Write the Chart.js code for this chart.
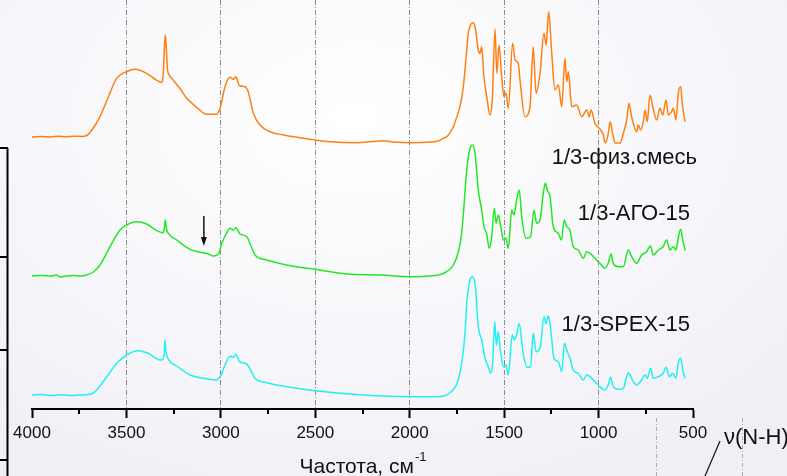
<!DOCTYPE html>
<html><head><meta charset="utf-8">
<script src="https://cdn.jsdelivr.net/npm/chart.js@4"></script>
<style>
html,body{margin:0;padding:0;}
body{width:787px;height:476px;overflow:hidden;background:radial-gradient(ellipse 75% 85% at 45% 25%, #ffffff 0%, #f7f7fb 55%, #efeff6 100%);}
#wrap{position:relative;width:787px;height:476px;}
</style></head><body><div id="wrap"><canvas id="c" width="787" height="476"></canvas></div>
<script>
// ---- Data (wavenumber, cm^-1 ; intensity in arbitrary offset units) ----
const xTicks = [4000, 3500, 3000, 2500, 2000, 1500, 1000, 500];
const seriesNames = ["1/3-физ.смесь", "1/3-АГО-15", "1/3-SPEX-15"];

const mixWn = [4000,3950,3900,3860,3820,3780,3740,3710,3675,3640,3600,3552,3499,3455,3393,3350,3315,3305,3298,3294,3290,3283,3278,3252,3215,3181,3128,3075,3022,3004,2978,2952,2934,2920,2902,2872,2855,2828,2793,2740,2669,2563,2501,2422,2281,2200,2140,2080,1998,1893,1850,1822,1800,1769,1751,1734,1716,1700,1690,1678,1666,1654,1637,1628,1619,1607,1592,1575,1563,1548,1539,1527,1513,1501,1490,1478,1455,1442,1425,1416,1390,1363,1346,1331,1310,1289,1278,1264,1248,1231,1213,1195,1178,1169,1160,1142,1116,1089,1063,1049,1040,1019,996,975,965,950,939,926,913,886,870,851,839,825,798,790,777,763,754,742,728,713,692,675,660,643,631,613,604,590,578,565,557,542];
const mixVal = [272,272.5,272,272.8,272.3,272.8,272.5,273.5,281,292.3,310,330.7,337.3,339.7,335.7,330,326.5,335,365,374,365,340,335.7,329,320,310.7,301.7,294.7,294.7,300.7,322.3,331.7,329.7,332.3,323.3,322.3,317.3,295.7,284,277.3,274,270.7,269,267.3,266.3,267.5,268.3,267,266.3,267,268,270.7,273,282.3,292,302.3,322.3,355,375.7,384,386.3,382.3,359,355.7,362.3,332.3,312.3,294,309,379.7,335.7,364,332.3,312.3,315.7,300.7,365.7,349,345.7,329,292.3,302.3,362.3,315.7,335.7,375.7,364,397.3,355.7,319,324,302.3,350.7,327.3,337.3,302.3,304,292.3,299,292.3,299,285.7,280.7,274,266,274,287.3,276,266,266,275,289,305.7,292.3,277.3,284,279,287.3,299,287.3,314,302.3,289,300.7,294,309,294,297.3,300.7,289,315.7,322.3,305.7,287.3];

const agoWn = [4000,3950,3900,3870,3852,3820,3780,3740,3710,3675,3640,3587,3534,3499,3446,3393,3340,3308,3300,3294,3288,3278,3234,3163,3110,3066,3040,3013,2995,2975,2952,2934,2920,2899,2863,2840,2819,2757,2651,2501,2334,2157,1998,1893,1822,1769,1740,1725,1716,1698,1681,1668,1654,1637,1619,1607,1593,1579,1566,1552,1543,1531,1518,1504,1490,1478,1460,1448,1434,1420,1407,1384,1360,1342,1328,1310,1293,1282,1272,1257,1240,1214,1196,1182,1169,1152,1134,1108,1081,1063,1045,1019,993,966,949,934,922,896,869,843,825,799,772,746,725,711,684,658,640,622,604,590,577,565,554,541];
const agoVal = [133,133.5,133,134,132,133,133.5,133,134,137,144,162.3,179,184,187.3,185,178.3,176.3,180,189,180,175.7,169,159.7,156.7,155,153,155,165.7,174,180.7,179,181.3,175,172.3,163,154,149,144,139.7,135,134,132.3,133,135.7,144,159,176,195,239,260.7,264,255.7,219,199,182.3,175.7,160.7,172.3,200.7,185.7,194,182.3,169,170.7,160.7,199,194,209,219,192.3,170.7,172.3,199,185.7,189,215.7,225.7,219,212.3,182.3,175.7,169,189,182.3,179,162.3,159,150.7,157.3,155.7,150.7,145.7,140.7,145.7,155,145.7,142.3,142.3,159,152.3,145.7,154,157.3,163,154,159,162.3,169,159,162.3,159,172.3,179.7,169,158.3];

const spexWn = [4000,3950,3900,3850,3800,3750,3710,3680,3657,3604,3551,3499,3437,3384,3322,3308,3300,3296,3291,3278,3234,3163,3093,3022,3004,2978,2952,2934,2920,2902,2863,2840,2819,2757,2651,2501,2246,1998,1857,1787,1743,1720,1706,1698,1681,1668,1654,1637,1619,1601,1584,1571,1561,1550,1541,1531,1518,1504,1490,1478,1457,1446,1430,1420,1402,1380,1360,1346,1331,1310,1289,1278,1266,1253,1236,1213,1195,1181,1169,1151,1134,1108,1081,1063,1045,1019,993,966,949,936,922,896,869,843,825,799,772,754,742,724,711,684,658,643,625,608,590,578,565,554,542];
const spexVal = [14,14.5,13.5,14.2,13.6,14,14.3,15.5,19,32.3,45.7,54,58.3,55.7,49,49.7,55,69,58,49.7,43,34,30.7,29,32.3,44,53,51.7,54.7,47.3,45,38,30.7,26.3,22.3,18.3,14,12.3,12.3,16.3,29,52.3,79,105.7,129,132.3,125.7,82.3,69,50.7,42.3,35.7,45.7,87.3,64,77.3,55.7,42.3,44,34,74,69,77.3,85.7,59,41.7,42.3,75.7,57.3,60.7,92.3,85.7,93.3,79,50.7,47.3,37.3,65.7,59,50.7,39,35.7,29,34,32.3,27.3,22.3,19,24,31.7,22.3,19.7,20.7,36.3,30.7,24,29,34,30.7,40.7,30.7,32.3,35.7,41.7,32.3,35.7,30.7,45.7,50.7,39,30.7];

const minorTicks = [3750, 3250, 2750, 2250, 1750, 1250, 750];
const arrowAt = {x: 3090, yFrom: 193, yTo: 163};

const pts = (xs, ys) => xs.map((x, i) => ({x: x, y: ys[i]}));
const FONT = "'Liberation Sans', Arial, sans-serif";
Chart.defaults.font.family = FONT;

const decor = {
  id: 'decor',
  afterDraw(chart) {
    const ctx = chart.ctx, xs = chart.scales.x, ys = chart.scales.y, ca = chart.chartArea;
    ctx.save();
    // minor ticks
    ctx.strokeStyle = '#000'; ctx.lineWidth = 2;
    minorTicks.forEach(v => {
      const p = Math.round(xs.getPixelForValue(v));
      ctx.beginPath(); ctx.moveTo(p, ca.bottom); ctx.lineTo(p, ca.bottom + 5); ctx.stroke();
    });
    // axis title with superscript
    ctx.fillStyle = '#111';
    ctx.textBaseline = 'alphabetic';
    const main = 'Частота, см', sup = '-1';
    ctx.font = '21px ' + FONT;
    const w1 = ctx.measureText(main).width;
    ctx.font = '13px ' + FONT;
    const w2 = ctx.measureText(sup).width;
    const cx = (ca.left + ca.right) / 2;
    const x0 = cx - (w1 + w2) / 2;
    ctx.font = '21px ' + FONT; ctx.textAlign = 'left';
    ctx.fillText(main, x0, 473);
    ctx.font = '13px ' + FONT;
    ctx.fillText(sup, x0 + w1 + 1, 461);
    // series labels
    ctx.font = '22px ' + FONT; ctx.textAlign = 'right'; ctx.textBaseline = 'middle';
    ctx.fillText(seriesNames[0], 697, 158);
    ctx.fillText(seriesNames[1], 690, 214);
    ctx.fillText(seriesNames[2], 690, 325);
    // arrow
    const ax = xs.getPixelForValue(arrowAt.x), ay1 = ys.getPixelForValue(arrowAt.yFrom), ay2 = ys.getPixelForValue(arrowAt.yTo);
    ctx.strokeStyle = '#111'; ctx.lineWidth = 1.5;
    ctx.beginPath(); ctx.moveTo(ax, ay1); ctx.lineTo(ax, ay2 - 6); ctx.stroke();
    ctx.fillStyle = '#111';
    ctx.beginPath(); ctx.moveTo(ax - 3, ay2 - 9); ctx.lineTo(ax + 3, ay2 - 9); ctx.lineTo(ax, ay2); ctx.closePath(); ctx.fill();
    // stray left axis (from slide)
    ctx.strokeStyle = '#000'; ctx.lineWidth = 2;
    ctx.beginPath(); ctx.moveTo(7.5, 148); ctx.lineTo(7.5, 476); ctx.stroke();
    [148, 257, 350, 460].forEach(y => { ctx.beginPath(); ctx.moveTo(0, y); ctx.lineTo(8, y); ctx.stroke(); });
    // bottom-right annotation
    ctx.strokeStyle = '#aaa'; ctx.lineWidth = 1; ctx.setLineDash([4, 2, 1, 2]);
    [656.5, 742.5].forEach(x => { ctx.beginPath(); ctx.moveTo(x, 418); ctx.lineTo(x, 476); ctx.stroke(); });
    ctx.setLineDash([]);
    ctx.strokeStyle = '#111'; ctx.lineWidth = 1.2;
    ctx.beginPath(); ctx.moveTo(705, 476); ctx.lineTo(720, 441); ctx.stroke();
    ctx.fillStyle = '#111'; ctx.font = '22px ' + FONT; ctx.textAlign = 'left'; ctx.textBaseline = 'alphabetic';
    ctx.fillText('ν(N-H)', 724, 444);
    ctx.restore();
  }
};

const gridColor = ctx => (ctx.tick && (ctx.tick.value === 4000 || ctx.tick.value === 500)) ? 'rgba(0,0,0,0)' : '#8c8c8c';
const lineDs = (label, data, color) => ({label, data, borderColor: color, borderWidth: 1.5, pointRadius: 0, cubicInterpolationMode: 'monotone', fill: false});

new Chart(document.getElementById('c'), {
  type: 'line',
  data: {
    datasets: [
      lineDs(seriesNames[0], pts(mixWn, mixVal), '#ff8010'),
      lineDs(seriesNames[1], pts(agoWn, agoVal), '#22e822'),
      lineDs(seriesNames[2], pts(spexWn, spexVal), '#22f0f0')
    ]
  },
  options: {
    responsive: false,
    animation: false,
    devicePixelRatio: 1,
    layout: {padding: {left: 32, right: 94, top: 0, bottom: 0}},
    plugins: {legend: {display: false}, tooltip: {enabled: false}},
    scales: {
      x: {
        type: 'linear', reverse: true, min: 500, max: 4000,
        afterBuildTicks: s => { s.ticks = xTicks.map(v => ({value: v})); },
        afterFit: s => { s.height = 67; },
        ticks: {color: '#111', font: {size: 17}, padding: 5, maxRotation: 0, autoSkip: false, callback: v => String(v)},
        grid: {color: gridColor, lineWidth: 1, drawTicks: true, tickLength: 9, tickColor: '#000', tickWidth: 2, tickBorderDash: []},
        border: {display: true, color: '#000', width: 2, dash: [5, 2, 1, 2]}
      },
      y: {type: 'linear', min: 0, max: 409, display: false}
    }
  },
  plugins: [decor]
});
</script>
</body></html>
